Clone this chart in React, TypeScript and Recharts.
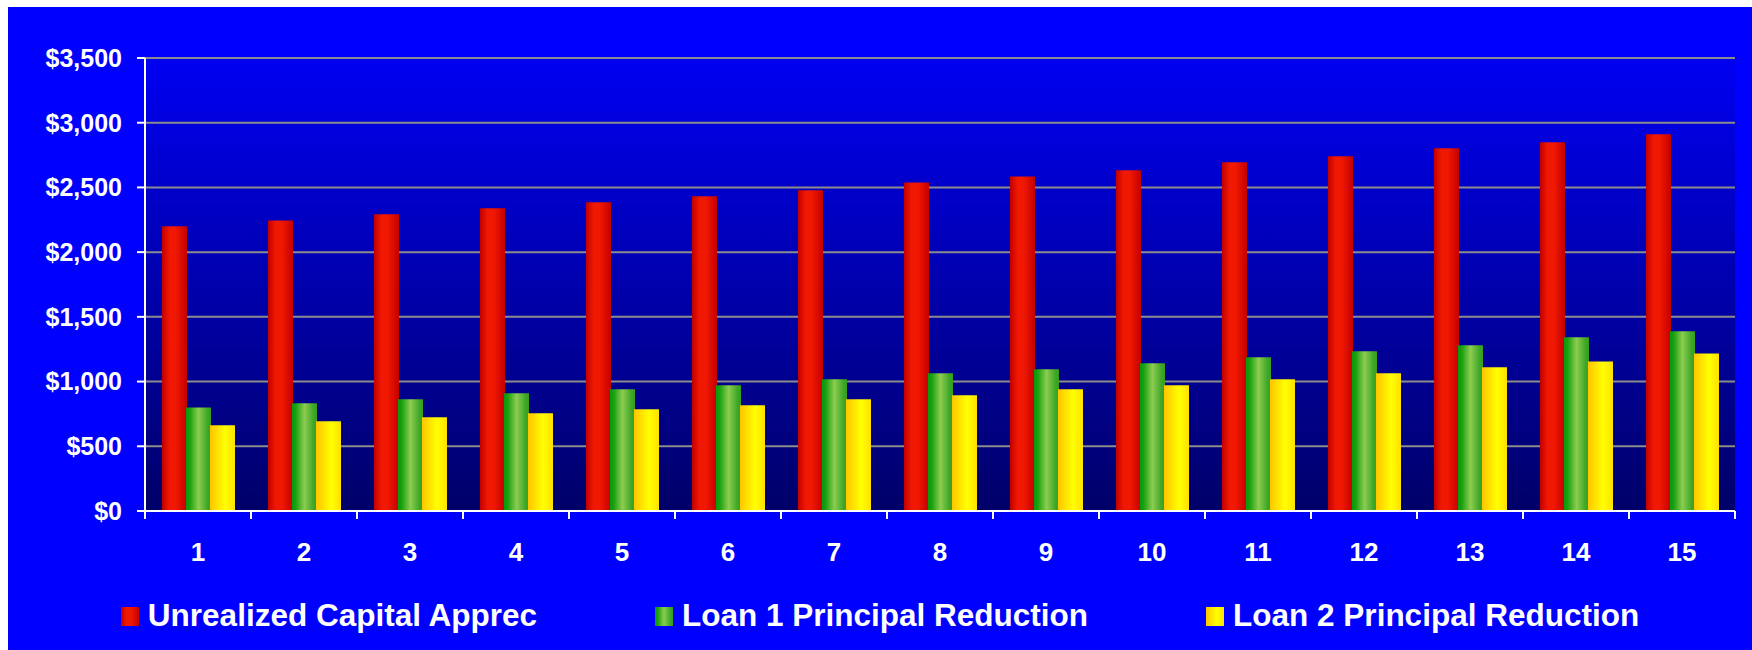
import React from "react";
import { BarChart, Bar, XAxis, YAxis, CartesianGrid, Legend } from "recharts";

const years = ["1", "2", "3", "4", "5", "6", "7", "8", "9", "10", "11", "12", "13", "14", "15"];
const capitalApprec = [2200, 2245, 2293, 2339, 2386, 2432, 2478, 2539, 2585, 2632, 2694, 2740, 2802, 2849, 2911];
const loan1Reduction = [800, 832, 863, 910, 941, 971, 1018, 1064, 1095, 1141, 1188, 1234, 1280, 1342, 1388];
const loan2Reduction = [662, 694, 724, 755, 786, 817, 864, 895, 941, 971, 1018, 1064, 1110, 1155, 1217];
const yTicks = [0, 500, 1000, 1500, 2000, 2500, 3000, 3500];
const seriesNames = ["Unrealized Capital Apprec", "Loan 1 Principal Reduction", "Loan 2 Principal Reduction"];

const W = 1744;
const H = 643;
const margin = { top: 51, right: 17, bottom: 9, left: 0 };
const Y_AXIS_W = 137;
const X_AXIS_H = 80;
const LEGEND_H = 50;
const AXIS_Y = H - margin.bottom - LEGEND_H - X_AXIS_H;
const HALF_BAND = (W - Y_AXIS_W - margin.left - margin.right) / years.length / 2;
const FONT = '"Liberation Sans", Arial, sans-serif';

const data = years.map((year, i) => ({
  year,
  capital: capitalApprec[i],
  loan1: loan1Reduction[i],
  loan2: loan2Reduction[i],
}));

// swatch gradients, same as the bars
const swatches = [
  "linear-gradient(to right, #c00000 0%, #f01800 30%, #f01800 55%, #c40000 100%)",
  "linear-gradient(to right, #089808 0%, #1aa010 15%, #8ccc50 50%, #40a828 85%, #30a020 100%)",
  "linear-gradient(to right, #ffc400 0%, #fff000 45%, #ffff00 60%, #ffe000 100%)",
];

const XTick = (props: any) => {
  const { x, payload, index } = props;
  return (
    <g>
      <line x1={x - HALF_BAND} x2={x - HALF_BAND} y1={AXIS_Y} y2={AXIS_Y + 8} stroke="#fff" strokeWidth={2} />
      {index === years.length - 1 && (
        <line x1={x + HALF_BAND} x2={x + HALF_BAND} y1={AXIS_Y} y2={AXIS_Y + 8} stroke="#fff" strokeWidth={2} />
      )}
      <text
        x={x}
        y={AXIS_Y + 41}
        dy="0.355em"
        textAnchor="middle"
        fill="#fff"
        fontSize={26}
        fontWeight="bold"
        fontFamily={FONT}
      >
        {payload.value}
      </text>
    </g>
  );
};

const renderLegend = () => (
  <div style={{
    display: 'flex',
    justifyContent: 'center',
    alignItems: 'center',
    height: LEGEND_H,
    gap: 118,
  }}>
    {seriesNames.map((name, i) => (
      <div key={name} style={{ display: 'flex', alignItems: 'center', gap: 9 }}>
        <div style={{ width: 18, height: 19, background: swatches[i] }}></div>
        <span style={{
          color: '#fff',
          fontFamily: FONT,
          fontWeight: 'bold',
          fontSize: 31.5,
          lineHeight: 1,
        }}>
          {name}
        </span>
      </div>
    ))}
  </div>
);

const App: React.FC = () => {
  return (
    <div style={{
      position: 'absolute',
      left: 8,
      top: 7,
      width: W,
      height: H,
      background: '#0000ff',
      fontFamily: FONT,
    }}>
      <BarChart width={W} height={H} data={data} margin={margin} barGap={-1}>
        <defs>
          <linearGradient id="plotBg" x1="0" y1="0" x2="0" y2="1">
            <stop offset="0%" stopColor="#0000f2" />
            <stop offset="100%" stopColor="#000068" />
          </linearGradient>
          <linearGradient id="redGrad" x1="0" y1="0" x2="1" y2="0">
            <stop offset="0%" stopColor="#c00000" />
            <stop offset="30%" stopColor="#f01800" />
            <stop offset="55%" stopColor="#f01800" />
            <stop offset="100%" stopColor="#c40000" />
          </linearGradient>
          <linearGradient id="greenGrad" x1="0" y1="0" x2="1" y2="0">
            <stop offset="0%" stopColor="#089808" />
            <stop offset="15%" stopColor="#1aa010" />
            <stop offset="50%" stopColor="#8ccc50" />
            <stop offset="85%" stopColor="#40a828" />
            <stop offset="100%" stopColor="#30a020" />
          </linearGradient>
          <linearGradient id="yellowGrad" x1="0" y1="0" x2="1" y2="0">
            <stop offset="0%" stopColor="#ffc400" />
            <stop offset="45%" stopColor="#fff000" />
            <stop offset="60%" stopColor="#ffff00" />
            <stop offset="100%" stopColor="#ffe000" />
          </linearGradient>
        </defs>
        <CartesianGrid vertical={false} fill="url(#plotBg)" stroke="#8c8c8c" strokeWidth={2} />
        <XAxis
          dataKey="year"
          height={X_AXIS_H}
          interval={0}
          tickLine={false}
          tickSize={8}
          tickMargin={0}
          axisLine={{ stroke: '#fff', strokeWidth: 2 }}
          tick={<XTick />}
        />
        <YAxis
          width={Y_AXIS_W}
          domain={[0, 3500]}
          ticks={yTicks}
          interval={0}
          tickSize={8}
          tickMargin={15}
          tickFormatter={(v: number) => '$' + v.toLocaleString('en-US')}
          tick={{ fill: '#fff', fontSize: 25, fontWeight: 'bold', fontFamily: FONT }}
          tickLine={{ stroke: '#fff', strokeWidth: 2 }}
          axisLine={{ stroke: '#fff', strokeWidth: 2 }}
        />
        <Legend
          verticalAlign="bottom"
          content={renderLegend}
          wrapperStyle={{ left: 0, width: W, height: LEGEND_H }}
        />
        <Bar dataKey="capital" name={seriesNames[0]} fill="url(#redGrad)" barSize={25} isAnimationActive={false} />
        <Bar dataKey="loan1" name={seriesNames[1]} fill="url(#greenGrad)" barSize={25} isAnimationActive={false} />
        <Bar dataKey="loan2" name={seriesNames[2]} fill="url(#yellowGrad)" barSize={25} isAnimationActive={false} />
      </BarChart>
    </div>
  );
};

export default App;
